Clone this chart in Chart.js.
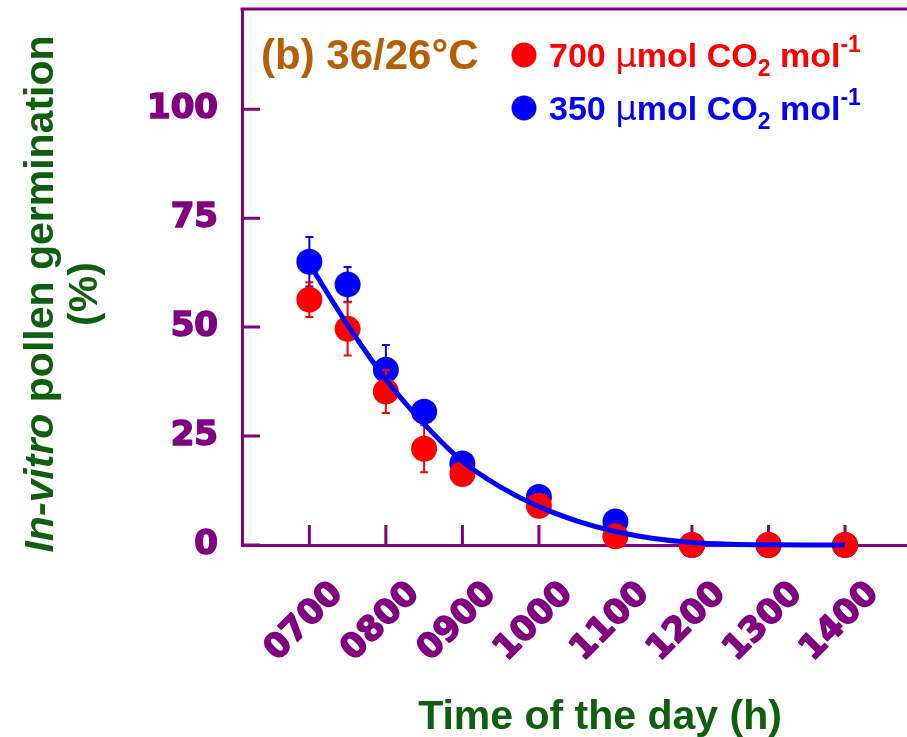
<!DOCTYPE html>
<html><head><meta charset="utf-8">
<script src="https://cdn.jsdelivr.net/npm/chart.js@4.4.1/dist/chart.umd.min.js"></script>
<style>html,body{margin:0;padding:0;background:#fff}#wrap{width:907px;height:737px;position:relative}</style>
</head><body><div id="wrap"><canvas id="c"></canvas></div>
<script>
// ---- data ----
const timeOfDay = [7, 7.5, 8, 8.5, 9, 10, 11, 12, 13, 14];
const germ700 = [56.3, 49.6, 35.2, 22.1, 16.3, 9.0, 2.0, 0, 0, 0];
const err700  = [4.0, 6.1, 4.9, 5.4, 1.5, 1.5, 1.0, 0, 0, 0];
const germ350 = [65.0, 59.8, 40.2, 30.6, 18.7, 11.0, 5.4, 0, 0, 0];
const err350  = [5.7, 4.0, 5.7, 1.5, 2.4, 1.0, 1.0, 0, 0, 0];
const fitTime   = [7, 7.5, 8, 8.5, 9, 9.5, 10, 10.5, 11, 11.5, 12, 12.5, 13, 13.5, 14];
const fitValues = [64.5, 50.5, 38.0, 27.8, 19.2, 13.3, 8.8, 5.5, 3.1, 1.5, 0.6, 0.2, 0.05, 0, 0];
const xTickValues = [7, 8, 9, 10, 11, 12, 13, 14];
const xTickLabels = ['0700', '0800', '0900', '1000', '1100', '1200', '1300', '1400'];
const yTickValues = [0, 25, 50, 75, 100];

const PURPLE = '#800080', RED = '#ff0000', BLUE = '#0000ff', GREEN = '#0f5f0f', BROWN = '#b45f06';
const SANS = '"Liberation Sans", Arial, sans-serif';
const WIDE = '"DejaVu Sans", sans-serif';

function pts(xs, ys) { return xs.map((x, i) => ({ x: x, y: ys[i] })); }

function drawRich(ctx, x, y, segs) {
  for (const s of segs) {
    ctx.font = s.font;
    ctx.fillText(s.t, x, y + (s.dy || 0));
    x += ctx.measureText(s.t).width + (s.gap || 0);
  }
}
function richWidth(ctx, segs) {
  let w = 0;
  for (const s of segs) { ctx.font = s.font; w += ctx.measureText(s.t).width + (s.gap || 0); }
  return w;
}

const deco = {
  id: 'deco',
  beforeDatasetsDraw(chart) {
    const ctx = chart.ctx, a = chart.chartArea, xs = chart.scales.x, ys = chart.scales.y;
    ctx.save();
    ctx.strokeStyle = PURPLE; ctx.lineWidth = 3;
    ctx.beginPath(); ctx.moveTo(a.left - 1.5, a.top); ctx.lineTo(a.right, a.top); ctx.stroke();
    ctx.beginPath();
    xs.ticks.forEach(t => { const px = xs.getPixelForValue(t.value); ctx.moveTo(px, a.bottom); ctx.lineTo(px, a.bottom - 20); });
    ys.ticks.forEach(t => { const py = ys.getPixelForValue(t.value); ctx.moveTo(a.left, py); ctx.lineTo(a.left + 18, py); });
    ctx.stroke();
    ctx.restore();
  },
  beforeDatasetDraw(chart, args) {
    const ds = chart.data.datasets[args.index];
    if (!ds.errors) return;
    const ctx = chart.ctx, xs = chart.scales.x, ys = chart.scales.y;
    ctx.save();
    ctx.strokeStyle = ds.backgroundColor; ctx.lineWidth = 2;
    ds.data.forEach((p, i) => {
      const e = ds.errors[i]; if (!e) return;
      const px = xs.getPixelForValue(p.x), y1 = ys.getPixelForValue(p.y + e), y2 = ys.getPixelForValue(p.y - e);
      ctx.beginPath();
      ctx.moveTo(px, y1); ctx.lineTo(px, y2);
      ctx.moveTo(px - 4, y1); ctx.lineTo(px + 4, y1);
      ctx.moveTo(px - 4, y2); ctx.lineTo(px + 4, y2);
      ctx.stroke();
    });
    ctx.restore();
  },
  afterDraw(chart) {
    const ctx = chart.ctx, xs = chart.scales.x;
    ctx.save();
    ctx.fillStyle = PURPLE; ctx.strokeStyle = PURPLE; ctx.lineWidth = 1.6; ctx.lineJoin = 'round';
    ctx.font = 'bold 34px ' + WIDE;
    ctx.textAlign = 'center'; ctx.textBaseline = 'middle';
    xs.ticks.forEach((t, i) => {
      const px = xs.getPixelForValue(t.value);
      ctx.save(); ctx.translate(px - 5, 622); ctx.rotate(-Math.PI / 4);
      ctx.fillText(xTickLabels[i], 0, 0); ctx.strokeText(xTickLabels[i], 0, 0); ctx.restore();
    });
    ctx.fillStyle = GREEN; ctx.font = 'bold 41px ' + SANS; ctx.textBaseline = 'alphabetic';
    ctx.fillText('Time of the day (h)', 600, 729);
    ctx.save(); ctx.translate(0, 294); ctx.rotate(-Math.PI / 2);
    ctx.textAlign = 'left';
    const l1 = [{ t: 'In-vitro', font: 'italic bold 41px ' + SANS }, { t: ' pollen germination', font: 'bold 41px ' + SANS }];
    const w1 = richWidth(ctx, l1);
    drawRich(ctx, -w1 / 2, 53, l1);
    ctx.textAlign = 'center'; ctx.font = 'bold 41px ' + SANS;
    ctx.fillText('(%)', 0, 97);
    ctx.restore();
    ctx.textAlign = 'left';
    ctx.fillStyle = BROWN; ctx.font = 'bold 42px ' + SANS;
    ctx.fillText('(b) 36/26\u00B0C', 261, 69);
    const entries = [{ c: RED, n: '700', y: 55 }, { c: BLUE, n: '350', y: 108 }];
    entries.forEach(e => {
      ctx.fillStyle = e.c;
      ctx.beginPath(); ctx.arc(524, e.y, 12.5, 0, Math.PI * 2); ctx.fill();
      drawRich(ctx, 549, e.y + 12, [
        { t: e.n + ' ', font: 'bold 34px ' + SANS },
        { t: '\u03BC', font: '34px ' + WIDE },
        { t: 'mol CO', font: 'bold 34px ' + SANS },
        { t: '2', font: 'bold 23px ' + SANS, dy: 9 },
        { t: ' mol', font: 'bold 34px ' + SANS },
        { t: '-1', font: 'bold 23px ' + SANS, dy: -15 }
      ]);
    });
    ctx.restore();
  }
};

new Chart(document.getElementById('c'), {
  type: 'scatter',
  data: {
    datasets: [
      { type: 'line', label: 'fit', data: pts(fitTime, fitValues), borderColor: BLUE, borderWidth: 5,
        pointRadius: 0, cubicInterpolationMode: 'monotone', fill: false, order: 0, clip: false },
      { label: '700', data: pts(timeOfDay, germ700), errors: err700, backgroundColor: RED, borderWidth: 0,
        pointRadius: 13, pointHoverRadius: 13, order: 1, clip: false },
      { label: '350', data: pts(timeOfDay, germ350), errors: err350, backgroundColor: BLUE, borderWidth: 0,
        pointRadius: 13, pointHoverRadius: 13, order: 2, clip: false }
    ]
  },
  options: {
    responsive: true, maintainAspectRatio: false, animation: false,
    layout: { autoPadding: false, padding: { top: 9, right: 0, bottom: 0, left: 0 } },
    plugins: { legend: { display: false }, tooltip: { enabled: false } },
    scales: {
      x: {
        type: 'linear', min: 6.12, max: 14.81,
        grid: { display: false, drawTicks: false },
        border: { display: true, color: PURPLE, width: 3 },
        ticks: { display: false },
        afterBuildTicks: s => { s.ticks = xTickValues.map(v => ({ value: v })); },
        afterFit: s => { s.height = 192; s.paddingLeft = 0; s.paddingRight = 0; }
      },
      y: {
        type: 'linear', min: 0, max: 123,
        grid: { display: false, drawTicks: false },
        border: { display: true, color: PURPLE, width: 3 },
        ticks: { color: PURPLE, font: { family: 'DejaVu Sans', weight: 'bold', size: 34 }, padding: 24,
                 textStrokeColor: PURPLE, textStrokeWidth: 1.6 },
        afterBuildTicks: s => { s.ticks = yTickValues.map(v => ({ value: v })); },
        afterFit: s => { s.width = 242; s.paddingTop = 0; s.paddingBottom = 0; }
      }
    }
  },
  plugins: [deco]
});
</script></body></html>
